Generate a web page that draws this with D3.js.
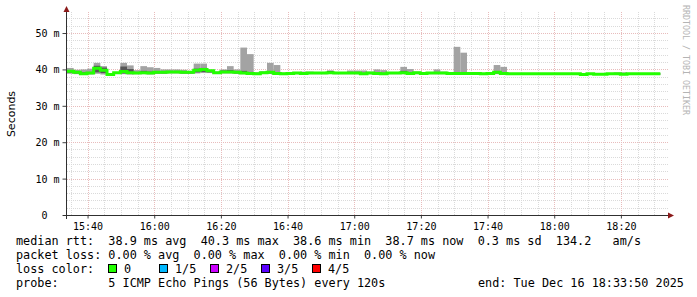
<!DOCTYPE html>
<meta charset="utf-8">
<style>
body { margin: 0; background: #fff; }
text { font-family: "DejaVu Sans Mono", monospace; fill: #000; white-space: pre; }
.grid-minor { stroke: #dadada; stroke-dasharray: 1,1; }
.grid-major { stroke: #e8bcbc; stroke-dasharray: 1,1; }
.axis path, .axis line { stroke: #404040; }
</style>
<body></body>
<script src="https://cdn.jsdelivr.net/npm/d3@7"></script>
<script>
// 2 minute steps, 5 pings each (sorted: min, 2nd, median, 4th, max), in ms
var rttMedian = [39.5,39.2,38.8,39.0,40.3,39.8,38.6,39.1,39.4,39.1,39.0,39.1,39.0,39.2,39.2,39.3,39.3,39.2,39.2,39.8,
  40.0,39.6,39.1,39.3,39.3,39.2,39.0,38.9,38.8,39.1,39.2,38.9,38.8,38.9,39.0,38.9,39.0,39.0,39.0,39.1,
  39.0,39.0,39.0,39.0,38.8,39.0,38.9,38.8,39.0,39.0,39.1,38.9,39.1,38.9,39.0,39.0,39.0,38.9,38.9,38.9,
  38.9,38.9,38.8,38.9,39.2,38.9,38.8,38.8,38.8,38.8,38.8,38.8,38.8,38.8,38.8,38.8,38.8,38.6,38.8,38.7,
  38.7,38.8,38.8,38.7,38.8,38.8,38.8,38.8,38.8];
var rttMax = [40.4,39.9,40.0,40.2,41.8,40.9,38.9,39.3,41.8,41.1,39.8,40.9,40.6,40.4,40.0,40.0,40.0,39.9,39.6,41.6,
  41.6,39.9,39.4,40.0,40.9,40.0,46.0,44.2,39.2,39.5,41.8,41.2,39.1,39.3,39.3,39.4,39.4,39.3,39.3,39.7,
  39.3,39.2,39.7,39.7,39.7,39.4,40.0,39.8,39.3,39.3,40.7,40.1,39.4,39.2,39.3,40.0,39.4,39.2,46.2,44.6,
  39.1,39.1,39.0,39.1,41.2,40.7,39.0,39.0,39.0,39.0,39.0,39.0,39.0,39.0,39.0,39.0,39.0,38.9,39.0,38.9,
  38.9,39.0,39.2,39.2,39.0,39.0,39.0,39.0,39.0];
var rttHigh = [39.8,39.4,39.2,39.3,41.0,40.5,38.7,39.2,40.8,40.1,39.3,39.6,39.4,39.5,39.5,39.5,39.5,39.4,39.3,40.2,
  40.4,39.7,39.2,39.7,39.8,39.4,39.6,39.3,38.9,39.2,39.4,39.1,38.9,39.0,39.1,39.0,39.1,39.1,39.1,39.6,
  39.1,39.1,39.2,39.2,39.0,39.1,39.2,39.0,39.1,39.1,39.6,39.2,39.2,39.0,39.1,39.2,39.1,39.0,39.1,39.1,
  39.0,39.0,38.9,39.0,39.5,39.1,38.9,38.9,38.9,38.9,38.9,38.9,38.9,38.9,38.9,38.9,38.9,38.7,38.9,38.8,
  38.8,38.9,38.9,38.8,38.9,38.9,38.9,38.9,38.9];
var rttLow = [39.1,38.9,38.6,38.8,39.2,39.0,38.5,38.9,38.9,38.8,38.8,38.8,38.8,38.9,38.9,39.0,39.0,38.9,38.9,39.2,
  39.3,39.2,38.9,39.0,39.0,38.9,38.8,38.7,38.6,38.9,38.9,38.7,38.6,38.7,38.8,38.6,38.8,38.8,38.8,38.9,
  38.8,38.8,38.8,38.8,38.6,38.8,38.7,38.6,38.8,38.8,38.8,38.7,38.8,38.7,38.8,38.8,38.8,38.7,38.7,38.7,
  38.7,38.7,38.6,38.7,38.9,38.7,38.6,38.6,38.6,38.6,38.6,38.6,38.6,38.6,38.6,38.6,38.6,38.5,38.6,38.6,
  38.6,38.6,38.6,38.6,38.6,38.6,38.6,38.6,38.6];
var rttMin = [38.8,38.7,38.5,38.6,38.8,38.6,38.4,38.8,38.7,38.6,38.7,38.7,38.6,38.8,38.8,38.9,38.9,38.8,38.8,38.9,
  39.0,39.0,38.8,38.9,38.9,38.8,38.7,38.6,38.5,38.8,38.8,38.6,38.5,38.6,38.7,38.5,38.7,38.7,38.7,38.8,
  38.7,38.7,38.7,38.7,38.5,38.7,38.6,38.5,38.7,38.7,38.7,38.6,38.7,38.6,38.7,38.7,38.7,38.6,38.6,38.6,
  38.6,38.6,38.5,38.6,38.7,38.6,38.5,38.5,38.5,38.5,38.5,38.5,38.5,38.5,38.5,38.5,38.5,38.4,38.5,38.5,
  38.5,38.5,38.5,38.5,38.5,38.5,38.5,38.5,38.5];

var lossLabels = ["0", "1/5", "2/5", "3/5", "4/5"];
var lossColors = ["#22ff00", "#00b8ff", "#cc00ff", "#5a00ff", "#ff0000"];

var statLines = [
  "median rtt:  38.9 ms avg  40.3 ms max  38.6 ms min  38.7 ms now  0.3 ms sd  134.2   am/s",
  "packet loss: 0.00 % avg  0.00 % max  0.00 % min  0.00 % now",
  "loss color:",
  "probe:       5 ICMP Echo Pings (56 Bytes) every 120s"
];
var endLabel = "end: Tue Dec 16 18:33:50 2025";

var endTime = new Date(2025, 11, 16, 18, 33, 50);
var startTime = d3.timeMinute.offset(endTime, -180);
var stepMin = 2;

var pLeft = 67, pRight = 667, pTop = 13, pBottom = 215;

var x = d3.scaleTime().domain([startTime, endTime]).range([pLeft, pRight]);
var y = d3.scaleLinear().domain([0, 55.5]).range([pBottom, pTop]);

var svg = d3.select("body").append("svg")
    .attr("width", 697)
    .attr("height", 297);

// grid
var minorX = d3.timeMinute.every(5).range(startTime, endTime);
var majorX = d3.timeMinute.every(20).range(startTime, endTime);
svg.append("g").selectAll("line")
    .data(minorX.filter(function(d) { return d.getMinutes() % 20 != 0; }))
  .enter().append("line").attr("class", "grid-minor")
    .attr("x1", function(d) { return Math.round(x(d)) + 0.5; })
    .attr("x2", function(d) { return Math.round(x(d)) + 0.5; })
    .attr("y1", pBottom).attr("y2", pTop - 2);
svg.append("g").selectAll("line")
    .data(d3.range(2, 56, 2).filter(function(d) { return d % 10 != 0; }))
  .enter().append("line").attr("class", "grid-minor")
    .attr("x1", pLeft).attr("x2", pRight + 2)
    .attr("y1", function(d) { return Math.round(y(d)) + 0.5; })
    .attr("y2", function(d) { return Math.round(y(d)) + 0.5; });
svg.append("g").selectAll("line")
    .data(majorX)
  .enter().append("line").attr("class", "grid-major")
    .attr("x1", function(d) { return Math.round(x(d)) + 0.5; })
    .attr("x2", function(d) { return Math.round(x(d)) + 0.5; })
    .attr("y1", pBottom).attr("y2", pTop - 2);
svg.append("g").selectAll("line")
    .data([10, 20, 30, 40, 50])
  .enter().append("line").attr("class", "grid-major")
    .attr("x1", pLeft).attr("x2", pRight + 2)
    .attr("y1", function(d) { return Math.round(y(d)) + 0.5; })
    .attr("y2", function(d) { return Math.round(y(d)) + 0.5; });

// smoke
var slotTime = function(i) { return d3.timeMinute.offset(startTime, i * stepMin); };
var smoke = svg.append("g");
smoke.selectAll(".outer")
    .data(rttMedian)
  .enter().append("rect")
    .attr("x", function(d, i) { return x(slotTime(i)); })
    .attr("width", function(d, i) { return x(slotTime(i + 1)) - x(slotTime(i)); })
    .attr("y", function(d, i) { return y(rttMax[i]); })
    .attr("height", function(d, i) { return y(rttMin[i]) - y(rttMax[i]); })
    .attr("fill", "#a3a3a3");
smoke.selectAll(".inner")
    .data(rttMedian)
  .enter().append("rect")
    .attr("x", function(d, i) { return x(slotTime(i)); })
    .attr("width", function(d, i) { return x(slotTime(i + 1)) - x(slotTime(i)); })
    .attr("y", function(d, i) { return y(rttHigh[i]); })
    .attr("height", function(d, i) { return y(rttLow[i]) - y(rttHigh[i]); })
    .attr("fill", "#555555");

// median line, coloured by loss (all 0 here)
var medPts = rttMedian.map(function(d, i) { return [slotTime(i), d]; });
medPts.push([slotTime(rttMedian.length), rttMedian[rttMedian.length - 1]]);
var line = d3.line()
    .x(function(d) { return x(d[0]); })
    .y(function(d) { return y(d[1]); })
    .curve(d3.curveStepAfter);
svg.append("path")
    .datum(medPts)
    .attr("d", line)
    .attr("fill", "none")
    .attr("stroke", lossColors[0])
    .attr("stroke-width", 3);

// axes
var yAxis = d3.axisLeft(y)
    .tickValues([0, 10, 20, 30, 40, 50])
    .tickSize(4).tickPadding(3)
    .tickFormat(function(d) { return d ? d + " m" : "0  "; });
var gy = svg.append("g").attr("class", "axis")
    .attr("transform", "translate(" + (pLeft - 0.5) + ",0)")
    .call(yAxis);
gy.select(".domain").remove();
gy.selectAll("text").style("font-size", "10px").attr("dy", "0.35em");

var xAxis = d3.axisBottom(x)
    .tickValues(majorX)
    .tickSize(3).tickPadding(4)
    .tickFormat(d3.timeFormat("%H:%M"));
var gx = svg.append("g").attr("class", "axis")
    .attr("transform", "translate(0," + (pBottom + 0.5) + ")")
    .call(xAxis);
gx.select(".domain").remove();
gx.selectAll("text").style("font-size", "10px");

svg.append("line").attr("x1", pLeft - 4).attr("x2", pRight + 2)
    .attr("y1", pBottom + 0.5).attr("y2", pBottom + 0.5)
    .attr("stroke", "#303030");
svg.append("line").attr("x1", pLeft - 0.5).attr("x2", pLeft - 0.5)
    .attr("y1", pBottom + 4).attr("y2", pTop - 2)
    .attr("stroke", "#303030");
svg.append("path").attr("d", "M" + (pLeft - 3.5) + "," + (pTop - 1) + "L" + (pLeft - 0.5) + "," + (pTop - 7) + "L" + (pLeft + 2.5) + "," + (pTop - 1) + "Z")
    .attr("fill", "#8b1a1a");
svg.append("path").attr("d", "M" + (pRight + 1) + "," + (pBottom - 2.5) + "L" + (pRight + 7) + "," + (pBottom + 0.5) + "L" + (pRight + 1) + "," + (pBottom + 3.5) + "Z")
    .attr("fill", "#8b1a1a");

svg.append("text")
    .attr("transform", "translate(15," + ((pTop + pBottom) / 2) + ") rotate(-90)")
    .attr("text-anchor", "middle")
    .style("font-family", "'DejaVu Sans', sans-serif")
    .style("font-size", "11px")
    .text("Seconds");

svg.append("text")
    .attr("transform", "translate(683,5) rotate(90)")
    .style("font-size", "8.3px")
    .style("fill", "#b4b4b4")
    .text("RRDTOOL / TOBI OETIKER");

// legend / stats
svg.selectAll(".stat")
    .data(statLines)
  .enter().append("text")
    .attr("x", 16)
    .attr("y", function(d, i) { return 245 + i * 14; })
    .style("font-size", "11.8px")
    .text(function(d) { return d; });

var lossG = svg.append("g").selectAll("g")
    .data(lossLabels)
  .enter().append("g")
    .attr("transform", function(d, i) { return "translate(" + (108 + i * 51) + ",264)"; });
lossG.append("rect")
    .attr("x", 0.5).attr("y", 0.5)
    .attr("width", 8).attr("height", 8)
    .attr("fill", function(d, i) { return lossColors[i]; })
    .attr("stroke", "#000");
lossG.append("text")
    .attr("x", 16).attr("y", 9)
    .style("font-size", "11.8px")
    .text(function(d) { return d; });

svg.append("text")
    .attr("x", 478).attr("y", 287)
    .style("font-size", "11.8px")
    .text(endLabel);
</script>
